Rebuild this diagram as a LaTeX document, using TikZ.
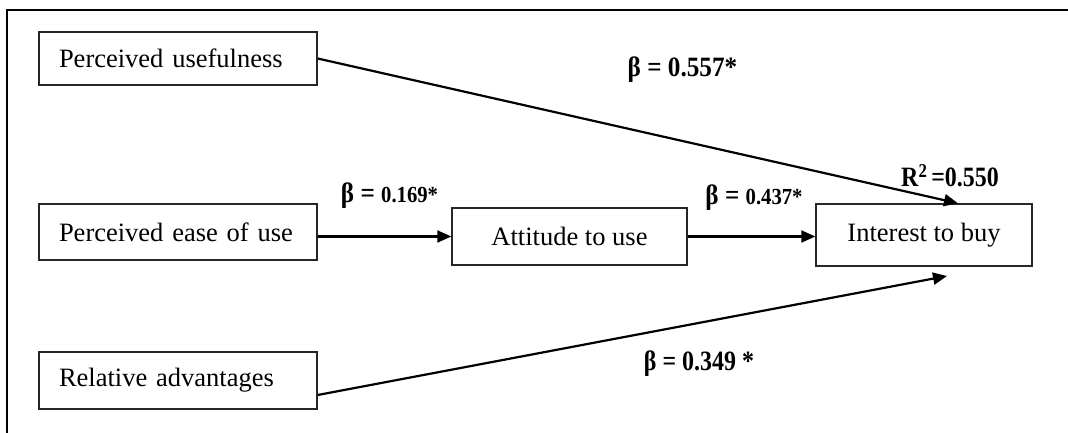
\documentclass[tikz,border=0pt]{standalone}
\usepackage{fontspec}
\setmainfont{Liberation Serif}
\usetikzlibrary{arrows.meta,calc}
\begin{document}
\begin{tikzpicture}[x=1pt,y=-1pt,
  box/.style={draw=black!85,line width=1.4pt,inner ysep=0pt,font=\fontsize{26.5}{30}\selectfont},
  lbox/.style={box,text width=238pt,align=left,inner xsep=20pt,minimum width=278pt},
  cbox/.style={box,align=center,inner xsep=0pt},
  conn/.style={line width=2.2pt,-{Triangle[length=14pt,width=12pt]}},
  coef/.style={font=\bfseries\fontsize{28}{32}\selectfont,inner sep=0pt,xscale=0.9,transform shape}]
\useasboundingbox (0,0) rectangle (1068,433);
\path[fill=white] (0,0) rectangle (1068,433);
% frame
\draw[line width=1.4pt] (7,433) -- (7,10) -- (1068,10);
% boxes
\node[lbox,minimum height=53pt] (pu) at (178,58.5) {Perceived usefulness};
\node[lbox,minimum height=56pt] (peou) at (178,232) {Perceived ease of use};
\node[lbox,minimum height=57pt] (ra) at (178,380.5) {Relative advantages};
\node[cbox,minimum width=235pt,minimum height=57pt] (att) at (569.5,236.5) {Attitude to use};
\node[cbox,minimum width=216pt,minimum height=62pt] (int) at (924,235) {Interest to buy};
% connector ends
\coordinate (puin) at ($(int.north)+(34,0)$);
\coordinate (raout) at ($(ra.east)+(0,14.5)$);
\coordinate (rain) at (947,276);
% connectors
\draw[conn] (pu.east) -- (puin);
\draw[conn] (att.west -| peou.east) -- (att.west);
\draw[conn] (att.east) -- (att.east -| int.west);
\draw[conn] (raout) -- (rain);
% labels
\node[coef] (l1) at (682.5,70) {β = 0.557*};
\node[coef] (l2) at (389.5,196) {β = {\fontsize{23}{26}\selectfont 0.169*}};
\node[coef] (l3) at (754,198) {β = {\fontsize{23}{26}\selectfont 0.437*}};
\node[coef,xscale=0.95] (l4) at (950,176) {R\textsuperscript{2}\,=0.550};
\node[coef,xscale=0.95] (l5) at (699,364) {β = 0.349 *};
\end{tikzpicture}
\end{document}
